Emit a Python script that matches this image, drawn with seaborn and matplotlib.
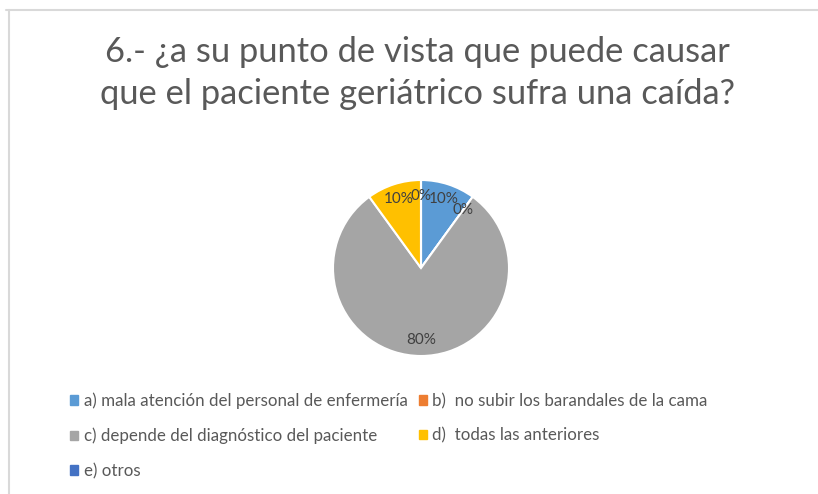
import matplotlib
matplotlib.use("Agg")
import matplotlib.pyplot as plt
import matplotlib.patches as mpatches
from matplotlib.lines import Line2D
import seaborn as sns

# data
categories = [
    "a) mala atención del personal de enfermería",
    "b)  no subir los barandales de la cama",
    "c) depende del diagnóstico del paciente",
    "d)  todas las anteriores",
    "e) otros",
]
values = [10, 0, 80, 10, 0]
colors = ["#5B9BD5", "#ED7D31", "#A5A5A5", "#FFC000", "#4472C4"]
title = "6.- ¿a su punto de vista que puede causar\nque el paciente geriátrico sufra una caída?"

sns.set_theme(style="white")
plt.rcParams["font.family"] = ["Lato", "DejaVu Sans"]

W, H = 818, 494
fig = plt.figure(figsize=(W / 100, H / 100), dpi=100)

# pie axes placed so the circle sits where the reference has it
cx, cy, r = 421, 268, 88
ax = fig.add_axes([(cx - r) / W, (H - cy - r) / H, 2 * r / W, 2 * r / H])
wedges, texts, autotexts = ax.pie(
    values, colors=colors, startangle=90, counterclock=False,
    autopct="%1.0f%%", pctdistance=0.82,
    wedgeprops=dict(edgecolor="white", linewidth=1.5),
    textprops=dict(color="#404040", fontsize=11),
)
ax.set_xlim(-1, 1)
ax.set_ylim(-1, 1)
ax.set_aspect("equal")

fig.text(0.51, (H - 73) / H, title, ha="center", va="center",
         fontsize=24.8, color="#595959", linespacing=1.4)

# legend: reorder so two columns read a,b / c,d / e
order = [0, 2, 4, 1, 3]
handles = [mpatches.Patch(color=colors[i]) for i in order]
labels = [categories[i] for i in order]
fig.legend(handles, labels, ncol=2, loc="upper left",
           bbox_to_anchor=(62 / W, (H - 384) / H), frameon=False,
           fontsize=12.2, labelcolor="#595959", handlelength=0.45,
           handleheight=0.45, handletextpad=0.35, columnspacing=0.65,
           labelspacing=1.1, borderpad=0)

# spreadsheet frame lines around the chart area
fig.add_artist(Line2D([6 / W, 1], [(H - 10) / H] * 2, color="#D9D9D9", lw=1.5))
fig.add_artist(Line2D([9 / W] * 2, [0, (H - 10) / H], color="#D9D9D9", lw=1.5))

fig.savefig("out.png", dpi=100, facecolor="white")
